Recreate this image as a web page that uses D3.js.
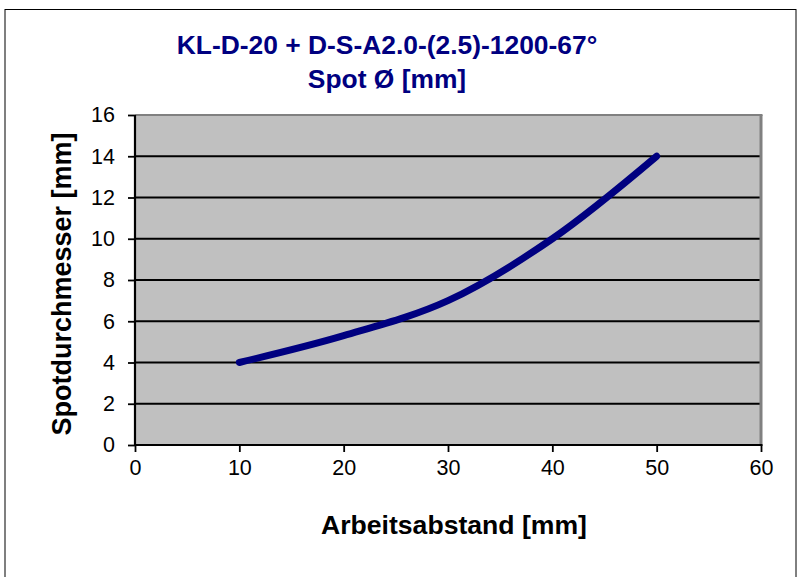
<!DOCTYPE html>
<html><head><meta charset="utf-8">
<script src="https://cdn.jsdelivr.net/npm/d3@7"></script>
<style>html,body{margin:0;padding:0;background:#fff;}svg{display:block;}</style>
</head><body>
<script>
const titleLines = ["KL-D-20 + D-S-A2.0-(2.5)-1200-67°", "Spot Ø [mm]"];
const xLabel = "Arbeitsabstand [mm]";
const yLabel = "Spotdurchmesser [mm]";
const distances = [10, 20, 30, 40, 50];
const spotSizes = [4, 5.3, 7, 10, 14];
const xTicks = [0, 10, 20, 30, 40, 50, 60];
const yTicks = [0, 2, 4, 6, 8, 10, 12, 14, 16];

const W = 803, H = 577;
const font = "'Liberation Sans', Arial, sans-serif";
const svg = d3.select("body").append("svg").attr("width", W).attr("height", H);

svg.append("rect").attr("x", 5).attr("y", 9.5).attr("width", 791).attr("height", 600)
  .attr("fill", "#fff").attr("stroke", "#000").attr("stroke-width", 1);

const L = 135, R = 761, T = 115, B = 445;
const x = d3.scaleLinear().domain([0, 60]).range([L, R]);
const y = d3.scaleLinear().domain([0, 16]).range([B, T]);

svg.append("rect").attr("x", L).attr("y", T).attr("width", R - L).attr("height", B - T).attr("fill", "#c0c0c0");

svg.append("g").selectAll("line").data(yTicks.filter(d => d > 0 && d < 16)).join("line")
  .attr("x1", L).attr("x2", R).attr("y1", d => y(d)).attr("y2", d => y(d))
  .attr("stroke", "#000").attr("stroke-width", 1.8);

// frame: gray top & right
svg.append("line").attr("x1", L).attr("x2", R + 1.5).attr("y1", T).attr("y2", T).attr("stroke", "#808080").attr("stroke-width", 2);
svg.append("line").attr("x1", R).attr("x2", R).attr("y1", T).attr("y2", B).attr("stroke", "#808080").attr("stroke-width", 3);

const yAxis = svg.append("g").attr("transform", `translate(${L},0)`)
  .call(d3.axisLeft(y).tickValues(yTicks).tickSize(7).tickPadding(13).tickFormat(d3.format("d")));
const xAxis = svg.append("g").attr("transform", `translate(0,${B})`)
  .call(d3.axisBottom(x).tickValues(xTicks).tickSize(7).tickPadding(8).tickFormat(d3.format("d")));
[yAxis, xAxis].forEach(g => {
  g.select(".domain").remove();
  g.selectAll(".tick line").attr("stroke", "#000").attr("stroke-width", 1.8);
  g.selectAll("text").attr("font-family", font).attr("font-size", 21.5).attr("fill", "#000");
});
svg.append("line").attr("x1", L).attr("x2", L).attr("y1", T).attr("y2", B + 1).attr("stroke", "#000").attr("stroke-width", 2.2);
svg.append("line").attr("x1", L - 1).attr("x2", R + 1.5).attr("y1", B).attr("y2", B).attr("stroke", "#000").attr("stroke-width", 2.2);

const pts = distances.map((d, i) => [d, spotSizes[i]]);
svg.append("path").datum(pts)
  .attr("d", d3.line().x(d => x(d[0])).y(d => y(d[1])).curve(d3.curveCatmullRom.alpha(0.5)))
  .attr("fill", "none").attr("stroke", "#000080").attr("stroke-width", 7)
  .attr("stroke-linecap", "round").attr("stroke-linejoin", "round");

svg.append("text").attr("x", 387).attr("y", 54).attr("text-anchor", "middle")
  .attr("font-family", font).attr("font-weight", "bold").attr("font-size", 26.4).attr("fill", "#000080")
  .text(titleLines[0]);
svg.append("text").attr("x", 387).attr("y", 88).attr("text-anchor", "middle")
  .attr("font-family", font).attr("font-weight", "bold").attr("font-size", 26.4).attr("fill", "#000080")
  .text(titleLines[1]);

svg.append("text").attr("x", 454).attr("y", 534).attr("text-anchor", "middle")
  .attr("font-family", font).attr("font-weight", "bold").attr("font-size", 26.6).attr("fill", "#000")
  .text(xLabel);
svg.append("text").attr("transform", "translate(71,284) rotate(-90)").attr("text-anchor", "middle")
  .attr("font-family", font).attr("font-weight", "bold").attr("font-size", 27).attr("fill", "#000")
  .text(yLabel);
</script>
</body></html>
